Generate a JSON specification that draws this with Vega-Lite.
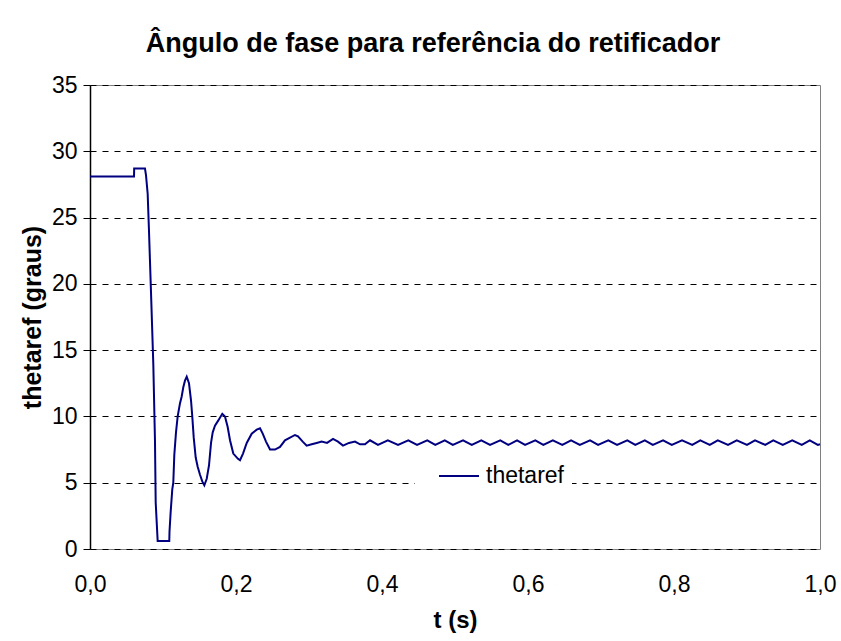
{
  "$schema": "https://vega.github.io/schema/vega-lite/v6.json",
  "width": 730,
  "height": 464,
  "autosize": {"type": "none"},
  "padding": {"left": 90, "top": 85, "right": 21, "bottom": 92},
  "background": "white",
  "config": {
    "font": "Liberation Sans",
    "view": {"stroke": "#808080", "strokeWidth": 1},
    "axis": {"labelFont": "Liberation Sans", "titleFont": "Liberation Sans", "labelColor": "black", "titleColor": "black"}
  },
  "title": {
    "text": "Ângulo de fase para referência do retificador",
    "font": "Liberation Sans",
    "fontSize": 27,
    "fontWeight": "bold",
    "color": "black",
    "anchor": "middle",
    "dx": -22,
    "offset": 16
  },
  "data": {
    "values": [
      {"t": 0.0, "v": 28.1},
      {"t": 0.0603, "v": 28.1},
      {"t": 0.0605, "v": 28.7},
      {"t": 0.0753, "v": 28.7},
      {"t": 0.0767, "v": 28.2},
      {"t": 0.079, "v": 26.8},
      {"t": 0.0808, "v": 24.0},
      {"t": 0.0836, "v": 19.3},
      {"t": 0.0867, "v": 14.0},
      {"t": 0.089, "v": 8.2},
      {"t": 0.090, "v": 3.5},
      {"t": 0.0927, "v": 0.6},
      {"t": 0.1086, "v": 0.6},
      {"t": 0.1089, "v": 1.3},
      {"t": 0.1105, "v": 2.8},
      {"t": 0.1127, "v": 4.5},
      {"t": 0.1141, "v": 5.0},
      {"t": 0.1155, "v": 7.1},
      {"t": 0.1178, "v": 8.8},
      {"t": 0.1201, "v": 10.0},
      {"t": 0.1233, "v": 11.0},
      {"t": 0.1256, "v": 11.5},
      {"t": 0.1278, "v": 12.2},
      {"t": 0.1301, "v": 12.7},
      {"t": 0.1325, "v": 13.0},
      {"t": 0.1356, "v": 12.5},
      {"t": 0.1384, "v": 11.2},
      {"t": 0.1401, "v": 10.0},
      {"t": 0.1421, "v": 8.4},
      {"t": 0.1448, "v": 6.9},
      {"t": 0.1475, "v": 6.2},
      {"t": 0.1507, "v": 5.6},
      {"t": 0.1538, "v": 5.1},
      {"t": 0.1566, "v": 4.8},
      {"t": 0.1599, "v": 5.3},
      {"t": 0.163, "v": 6.3},
      {"t": 0.1658, "v": 8.0},
      {"t": 0.1681, "v": 8.8},
      {"t": 0.1712, "v": 9.3},
      {"t": 0.1758, "v": 9.7},
      {"t": 0.1812, "v": 10.2},
      {"t": 0.1849, "v": 10.0},
      {"t": 0.1886, "v": 9.2},
      {"t": 0.1918, "v": 8.2},
      {"t": 0.1963, "v": 7.2},
      {"t": 0.2027, "v": 6.8},
      {"t": 0.2055, "v": 6.7},
      {"t": 0.2096, "v": 7.2},
      {"t": 0.2147, "v": 8.0},
      {"t": 0.2215, "v": 8.7},
      {"t": 0.2284, "v": 9.0},
      {"t": 0.2329, "v": 9.1},
      {"t": 0.2366, "v": 8.7},
      {"t": 0.2411, "v": 8.1},
      {"t": 0.2466, "v": 7.5},
      {"t": 0.2534, "v": 7.5},
      {"t": 0.2603, "v": 7.7},
      {"t": 0.2671, "v": 8.2},
      {"t": 0.274, "v": 8.4},
      {"t": 0.2808, "v": 8.6},
      {"t": 0.2849, "v": 8.5},
      {"t": 0.2914, "v": 8.1},
      {"t": 0.2968, "v": 7.8},
      {"t": 0.3037, "v": 7.9},
      {"t": 0.3105, "v": 8.0},
      {"t": 0.3173, "v": 8.1},
      {"t": 0.3247, "v": 8.0},
      {"t": 0.3329, "v": 8.3},
      {"t": 0.3397, "v": 8.1},
      {"t": 0.3466, "v": 7.8},
      {"t": 0.3548, "v": 8.0},
      {"t": 0.363, "v": 8.1},
      {"t": 0.3699, "v": 7.9},
      {"t": 0.3767, "v": 7.9},
      {"t": 0.3836, "v": 8.2},
      {"t": 0.3945, "v": 7.85},
      {"t": 0.408, "v": 8.2},
      {"t": 0.422, "v": 7.85},
      {"t": 0.436, "v": 8.2},
      {"t": 0.448, "v": 7.85},
      {"t": 0.462, "v": 8.2},
      {"t": 0.473, "v": 7.85},
      {"t": 0.486, "v": 8.2},
      {"t": 0.497, "v": 7.85},
      {"t": 0.511, "v": 8.2},
      {"t": 0.523, "v": 7.85},
      {"t": 0.536, "v": 8.2},
      {"t": 0.548, "v": 7.85},
      {"t": 0.562, "v": 8.2},
      {"t": 0.573, "v": 7.85},
      {"t": 0.585, "v": 8.2},
      {"t": 0.596, "v": 7.85},
      {"t": 0.61, "v": 8.2},
      {"t": 0.621, "v": 7.85},
      {"t": 0.634, "v": 8.2},
      {"t": 0.647, "v": 7.85},
      {"t": 0.659, "v": 8.2},
      {"t": 0.671, "v": 7.85},
      {"t": 0.685, "v": 8.2},
      {"t": 0.696, "v": 7.85},
      {"t": 0.71, "v": 8.2},
      {"t": 0.722, "v": 7.85},
      {"t": 0.736, "v": 8.2},
      {"t": 0.747, "v": 7.85},
      {"t": 0.76, "v": 8.2},
      {"t": 0.771, "v": 7.85},
      {"t": 0.785, "v": 8.2},
      {"t": 0.797, "v": 7.85},
      {"t": 0.811, "v": 8.2},
      {"t": 0.825, "v": 7.85},
      {"t": 0.836, "v": 8.2},
      {"t": 0.849, "v": 7.85},
      {"t": 0.86, "v": 8.2},
      {"t": 0.874, "v": 7.85},
      {"t": 0.886, "v": 8.2},
      {"t": 0.9, "v": 7.85},
      {"t": 0.911, "v": 8.2},
      {"t": 0.925, "v": 7.85},
      {"t": 0.936, "v": 8.2},
      {"t": 0.949, "v": 7.85},
      {"t": 0.962, "v": 8.2},
      {"t": 0.975, "v": 7.85},
      {"t": 0.986, "v": 8.2},
      {"t": 0.997, "v": 7.85},
      {"t": 1.0, "v": 7.9}
    ]
  },
  "mark": {"type": "line", "strokeWidth": 2, "interpolate": "linear"},
  "encoding": {
    "x": {
      "field": "t",
      "type": "quantitative",
      "scale": {"domain": [0, 1], "nice": false, "zero": false},
      "axis": {
        "title": "t (s)",
        "values": [0, 0.2, 0.4, 0.6, 0.8, 1.0],
        "labelExpr": "replace(format(datum.value, '.1f'), '.', ',')",
        "labelFlush": false,
        "labelFontSize": 23,
        "titleFontSize": 24,
        "titleFontWeight": "bold",
        "labelPadding": 24,
        "titlePadding": 12,
        "ticks": false,
        "domain": false,
        "grid": false
      }
    },
    "y": {
      "field": "v",
      "type": "quantitative",
      "scale": {"domain": [0, 35], "nice": false},
      "axis": {
        "title": "thetaref (graus)",
        "values": [0, 5, 10, 15, 20, 25, 30, 35],
        "labelFontSize": 23,
        "titleFontSize": 25,
        "titleFontWeight": "bold",
        "labelPadding": 6,
        "titlePadding": 6,
        "tickSize": 7,
        "tickColor": "black",
        "domainColor": "black",
        "domainWidth": 1.5,
        "grid": true,
        "gridColor": "black",
        "gridDash": [6, 6],
        "gridWidth": 1,
        "gridOpacity": 1
      }
    },
    "color": {
      "datum": "thetaref",
      "type": "nominal",
      "scale": {"range": ["#000080"]},
      "legend": {
        "title": null,
        "orient": "none",
        "legendX": 325,
        "legendY": 362,
        "symbolType": "stroke",
        "symbolSize": 1600,
        "symbolOffset": 15,
        "symbolStrokeWidth": 2,
        "labelFontSize": 23,
        "labelFont": "Liberation Sans",
        "labelColor": "black",
        "fillColor": "white",
        "padding": 8,
        "labelOffset": 6
      }
    }
  }
}
